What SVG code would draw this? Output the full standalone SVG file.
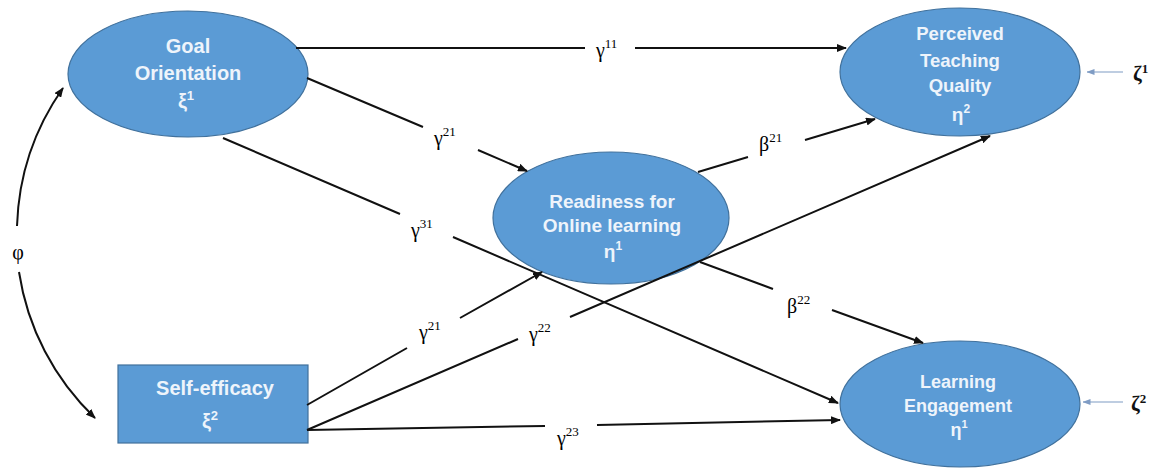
<svg xmlns="http://www.w3.org/2000/svg" width="1160" height="468" viewBox="0 0 1160 468">
  <style>
    .node { fill: #5B9BD5; stroke: #41719C; stroke-width: 1.2; }
    .nt { font-family: "Liberation Sans", Arial, sans-serif; font-weight: bold; fill: #EEF4FB; text-anchor: middle; }
    .lbl { font-family: "Liberation Serif", "Times New Roman", serif; font-size: 20px; fill: #000; }
    .sup { font-size: 13px; }
    .zeta { font-family: "Liberation Serif", "Times New Roman", serif; font-weight: bold; font-size: 21px; fill: #111; }
    .conn path { fill: none; stroke: #111; stroke-width: 2; }
    .conn path.err { stroke: #7F9CC4; stroke-width: 1.2; }
  </style>
  <defs>
    <marker id="arr" viewBox="0 0 10 8" refX="9" refY="4" markerWidth="10" markerHeight="8" markerUnits="userSpaceOnUse" orient="auto-start-reverse">
      <path d="M0 0 L10 4 L0 8 Z" fill="#111"/>
    </marker>
    <marker id="arrS" viewBox="0 0 8 6" refX="7.5" refY="3" markerWidth="8" markerHeight="6" markerUnits="userSpaceOnUse" orient="auto">
      <path d="M0 0 L8 3 L0 6 Z" fill="#7F9CC4"/>
    </marker>
  </defs>
  <rect width="1160" height="468" fill="#fff"/>

  <!-- latent variables -->
  <g id="goal-orientation">
    <ellipse class="node" cx="188" cy="74" rx="120" ry="63"/>
    <text class="nt" x="188" y="53" font-size="20">Goal</text>
    <text class="nt" x="188" y="80" font-size="20">Orientation</text>
    <text class="nt" x="186" y="108" font-size="20">ξ<tspan font-size="13" dy="-8">1</tspan></text>
  </g>

  <g id="self-efficacy">
    <rect class="node" x="118" y="365" width="190" height="78"/>
    <text class="nt" x="215" y="395" font-size="20">Self-efficacy</text>
    <text class="nt" x="210" y="428" font-size="20">ξ<tspan font-size="13" dy="-8">2</tspan></text>
  </g>

  <g id="readiness">
    <ellipse class="node" cx="611" cy="218" rx="118" ry="66"/>
    <text class="nt" x="612" y="208" font-size="19">Readiness for</text>
    <text class="nt" x="612" y="232" font-size="19">Online learning</text>
    <text class="nt" x="613" y="258" font-size="19">η<tspan font-size="12" dy="-8">1</tspan></text>
  </g>

  <g id="teaching-quality">
    <ellipse class="node" cx="960" cy="72" rx="120" ry="64"/>
    <text class="nt" x="960" y="40" font-size="18.5">Perceived</text>
    <text class="nt" x="960" y="67" font-size="18.5">Teaching</text>
    <text class="nt" x="960" y="92" font-size="18.5">Quality</text>
    <text class="nt" x="961" y="121" font-size="19">η<tspan font-size="12" dy="-8">2</tspan></text>
  </g>

  <g id="learning-engagement">
    <ellipse class="node" cx="960" cy="404" rx="120" ry="63"/>
    <text class="nt" x="958" y="388" font-size="18">Learning</text>
    <text class="nt" x="958" y="412" font-size="18">Engagement</text>
    <text class="nt" x="959" y="436" font-size="18">η<tspan font-size="11" dy="-8">1</tspan></text>
  </g>

  <!-- structural paths (split where the coefficient labels sit) -->
  <g id="connectors" class="conn">
    <path id="p-g11" d="M296 48 L585 48 M635 48 L846 48" marker-end="url(#arr)"/>
    <path id="p-g21a" d="M307 78 L423 127 M478 150 L527 171" marker-end="url(#arr)"/>
    <path id="p-g31" d="M223 138 L400 214 M453 237 L838 403" marker-end="url(#arr)"/>
    <path id="p-b21" d="M698 172 L748 157 M805 140 L875 119" marker-end="url(#arr)"/>
    <path id="p-g22" d="M307 430 L518 339 M570 317 L990 136" marker-end="url(#arr)"/>
    <path id="p-g21b" d="M307 405 L407 348 M460 318 L542 272" marker-end="url(#arr)"/>
    <path id="p-g23" d="M307 430 L545 426 M597 425 L840 420" marker-end="url(#arr)"/>
    <path id="p-b22" d="M700 262 L773 289 M832 310 L923 343" marker-end="url(#arr)"/>
    <path id="p-phi" d="M95 418 A254 254 0 0 1 19 272 M17 226 A254 254 0 0 1 63 88" marker-start="url(#arr)" marker-end="url(#arr)"/>
    <path id="p-z1" class="err" d="M1123 72 L1087 72" marker-end="url(#arrS)"/>
    <path id="p-z2" class="err" d="M1123 402 L1083 402" marker-end="url(#arrS)"/>
  </g>

  <!-- coefficients -->
  <g id="labels">
    <text class="lbl" x="596" y="57">γ<tspan class="sup" dy="-9">11</tspan></text>
    <text class="lbl" x="434" y="145">γ<tspan class="sup" dy="-9">21</tspan></text>
    <text class="lbl" x="411" y="237">γ<tspan class="sup" dy="-9">31</tspan></text>
    <text class="lbl" x="759" y="151">β<tspan class="sup" dy="-9">21</tspan></text>
    <text class="lbl" x="529" y="341">γ<tspan class="sup" dy="-9">22</tspan></text>
    <text class="lbl" x="419" y="339">γ<tspan class="sup" dy="-9">21</tspan></text>
    <text class="lbl" x="557" y="445">γ<tspan class="sup" dy="-9">23</tspan></text>
    <text class="lbl" x="787" y="313">β<tspan class="sup" dy="-9">22</tspan></text>
    <text class="lbl" x="18" y="259" text-anchor="middle" font-size="21">φ</text>
    <text class="zeta" x="1133" y="81">ζ<tspan font-size="13" dy="-8">1</tspan></text>
    <text class="zeta" x="1131" y="411">ζ<tspan font-size="13" dy="-8">2</tspan></text>
  </g>
</svg>
